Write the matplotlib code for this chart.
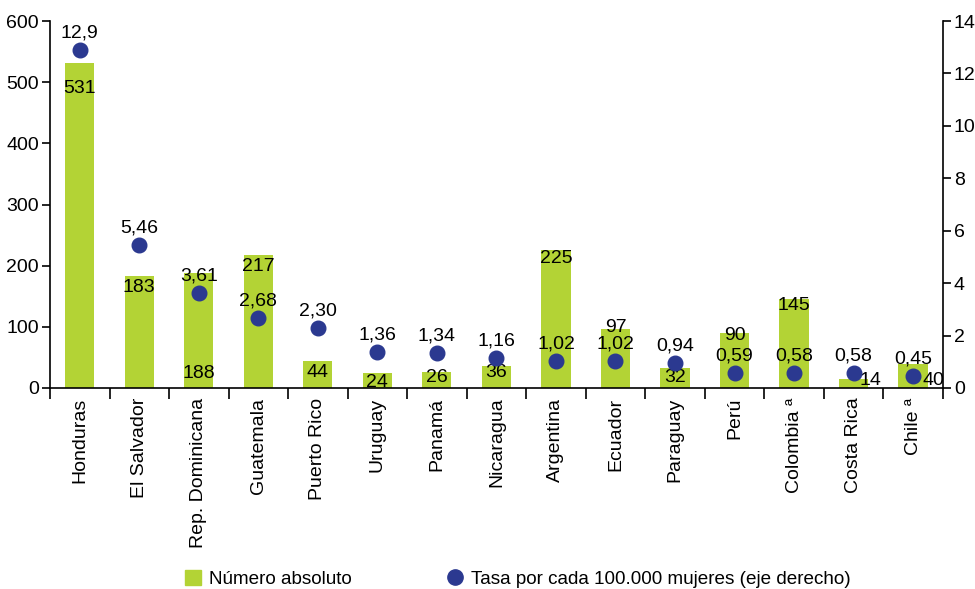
import numpy as np
import matplotlib.pyplot as plt
from matplotlib.lines import Line2D
from matplotlib.patches import Patch

plt.rcParams['font.family'] = ['Liberation Sans', 'DejaVu Sans']
plt.rcParams['font.size'] = 14

paises = ['Honduras', 'El Salvador', 'Rep. Dominicana', 'Guatemala', 'Puerto Rico',
          'Uruguay', 'Panamá', 'Nicaragua', 'Argentina', 'Ecuador', 'Paraguay',
          'Perú', 'Colombia ª', 'Costa Rica', 'Chile ª']
numero = [531, 183, 188, 217, 44, 24, 26, 36, 225, 97, 32, 90, 145, 14, 40]
tasa = [12.9, 5.46, 3.61, 2.68, 2.30, 1.36, 1.34, 1.16, 1.02, 1.02, 0.94,
        0.59, 0.58, 0.58, 0.45]
tasa_txt = ['12,9', '5,46', '3,61', '2,68', '2,30', '1,36', '1,34', '1,16',
            '1,02', '1,02', '0,94', '0,59', '0,58', '0,58', '0,45']

# desplazamiento de las etiquetas de barra (px): hacia abajo y a la derecha
lab_dy = [25, 11, 101, 11, 11, 9, 5, 7, 8, -1, 9, 3, 6, 1, 17]
lab_dx = [0, 0, 0, 0, 0, 0, 0, 0, 0, 0, 0, 0, 0, 17, 20]

verde = '#b3d335'
azul = '#2b3990'

fig = plt.figure(figsize=(9.75, 5.89), dpi=100)
ax = fig.add_axes([0.0513, 0.3413, 0.9157, 0.623])
x = np.arange(len(paises))
ax.bar(x, numero, width=0.49, color=verde, zorder=1)
ax.set_xlim(-0.5, len(paises) - 0.5)
ax.set_ylim(0, 600)
ax.set_yticks(range(0, 601, 100))
ax.set_xticks(x)
ax.set_xticklabels(paises, rotation=90, va='top')
ax.set_xticks(np.arange(-0.5, len(paises), 1), minor=True)
ax.tick_params(axis='x', which='major', length=0, pad=7)
ax.tick_params(axis='x', which='minor', length=8, width=1.2, direction='out')
ax.tick_params(axis='y', length=6, width=1.2, direction='out', pad=2)
ax.spines['top'].set_visible(False)
ax.spines['right'].set_visible(False)
for s in ['left', 'bottom']:
    ax.spines[s].set_linewidth(1.2)

k = 0.72  # px -> pt
for i, v in enumerate(numero):
    ax.annotate(str(v), (i, v), xytext=(lab_dx[i] * k, -lab_dy[i] * k),
                textcoords='offset points', ha='center', va='center', zorder=5)

ax2 = ax.twinx()
ax2.set_ylim(0, 14)
ax2.set_yticks(range(0, 15, 2))
ax2.plot(x, tasa, 'o', color=azul, markersize=10.5, zorder=3)
for i, v in enumerate(tasa):
    ax2.annotate(tasa_txt[i], (i, v), xytext=(0, 17 * k), textcoords='offset points',
                 ha='center', va='center')
ax2.tick_params(axis='y', length=6, width=1.2, direction='out', pad=2)
for s in ['top', 'left', 'bottom']:
    ax2.spines[s].set_visible(False)
ax2.spines['right'].set_linewidth(1.2)

handles = [Patch(color=verde),
           Line2D([], [], marker='o', ls='none', color=azul, markersize=11)]
fig.legend(handles, ['Número absoluto', 'Tasa por cada 100.000 mujeres (eje derecho)'],
           loc='center', bbox_to_anchor=(0.531, 0.017), ncol=2, frameon=False,
           prop={'size': 13.6},
           handlelength=0.85, handleheight=0.85, handletextpad=0.45, columnspacing=5.0,
           borderaxespad=0)

fig.savefig('out.png', dpi=100)
